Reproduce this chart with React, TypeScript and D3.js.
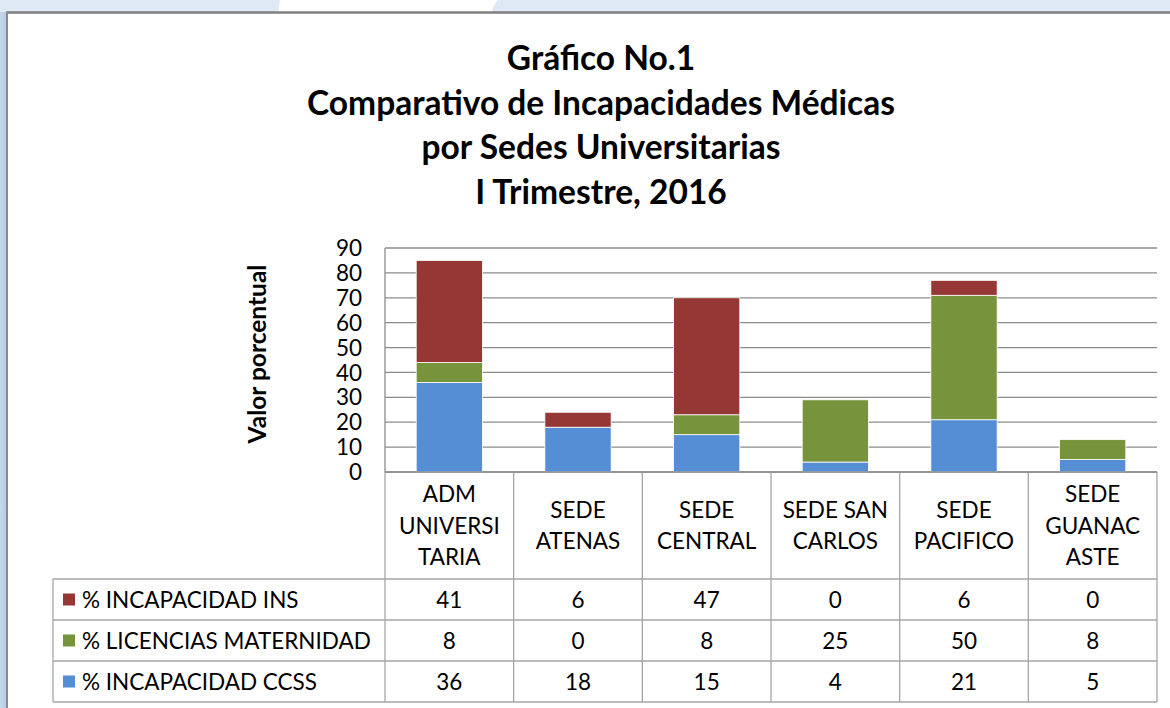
import React, { useEffect } from "react";
import * as d3 from "d3";

const categories = ["ADM UNIVERSITARIA", "SEDE ATENAS", "SEDE CENTRAL", "SEDE SAN CARLOS", "SEDE PACIFICO", "SEDE GUANACASTE"];
const categoryLines = [["ADM", "UNIVERSI", "TARIA"], ["SEDE", "ATENAS"], ["SEDE", "CENTRAL"], ["SEDE SAN", "CARLOS"], ["SEDE", "PACIFICO"], ["SEDE", "GUANAC", "ASTE"]];
const incapacidadINS = [41, 6, 47, 0, 6, 0];
const licenciasMaternidad = [8, 0, 8, 25, 50, 8];
const incapacidadCCSS = [36, 18, 15, 4, 21, 5];
const yTicks = [0, 10, 20, 30, 40, 50, 60, 70, 80, 90];
const seriesNames = ["% INCAPACIDAD INS", "% LICENCIAS MATERNIDAD", "% INCAPACIDAD CCSS"];
const titleLines = ["Gráfico No.1", "Comparativo de Incapacidades Médicas", "por Sedes Universitarias", "I Trimestre, 2016"];

const COLORS: Record<string, string> = { ins: "#953735", mat: "#77933c", ccss: "#558ed5" };
const FONT = "Lato, 'Open Sans', sans-serif";

export default function App() {
  useEffect(() => {
    document.body.style.margin = "0";
  }, []);

  const plotLeft = 385, plotRight = 1157, plotTop = 248, plotBottom = 472;
  const x = d3.scaleBand<string>().domain(categories).range([plotLeft, plotRight]).padding(0);
  const y = d3.scaleLinear().domain([0, 90]).range([plotBottom, plotTop]);
  const barW = x.bandwidth() * 0.515;

  const rows = categories.map((c, i) => ({ cat: c, ccss: incapacidadCCSS[i], mat: licenciasMaternidad[i], ins: incapacidadINS[i] }));
  const stack = d3.stack<any>().keys(["ccss", "mat", "ins"]);
  const series = stack(rows);

  const tableRows = [
    { name: seriesNames[0], key: "ins", values: incapacidadINS },
    { name: seriesNames[1], key: "mat", values: licenciasMaternidad },
    { name: seriesNames[2], key: "ccss", values: incapacidadCCSS },
  ];
  const headerBottom = 579;
  const rowH = 41;
  const tableLeft = 53;
  const grid = "#8c8c8c";
  const tbl = "#a6a6a6";
  const labelSize = 22.5;

  return (
    <svg width={1170} height={708} style={{ position: "absolute", left: 0, top: 0, display: "block" }}>
      <defs>
        <linearGradient id="leftStrip" x1="0" x2="1" y1="0" y2="0">
          <stop offset="0" stopColor="#c7d7ee" />
          <stop offset="1" stopColor="#b3c8e6" />
        </linearGradient>
      </defs>
      {/* slide background */}
      <rect x={0} y={0} width={1170} height={708} fill="#dfe9f5" />
      <path d="M280,0 L498,0 C494,5 492,9 492,12 L278,12 C279,8 279,4 280,0 Z" fill="#ffffff" />
      <rect x={0} y={12} width={7} height={696} fill="url(#leftStrip)" />
      {/* chart area */}
      <rect x={7} y={12} width={1163} height={696} fill="#ffffff" />
      <line x1={6} x2={1170} y1={12.5} y2={12.5} stroke="#7f7f7f" strokeWidth={2.5} />
      <line x1={7} x2={7} y1={12} y2={708} stroke="#8a8a8a" strokeWidth={2} />

      {/* title */}
      {titleLines.map((t, i) => (
        <text key={i} x={601} y={70 + i * 44.5} textAnchor="middle" fontFamily={FONT} fontWeight="bold" fontSize={33.5} fill="#000">
          {t}
        </text>
      ))}

      {/* y axis title */}
      <text transform={`translate(266,354) rotate(-90)`} textAnchor="middle" fontFamily={FONT} fontWeight="bold" fontSize={24.5} fill="#000">
        Valor porcentual
      </text>

      {/* gridlines */}
      {yTicks.map((t) => (
        <line key={t} x1={plotLeft} x2={plotRight} y1={y(t)} y2={y(t)} stroke={grid} strokeWidth={1.3} />
      ))}
      {/* tick labels */}
      {yTicks.map((t) => (
        <text key={"l" + t} x={362} y={y(t)} dy="0.36em" textAnchor="end" fontFamily={FONT} fontSize={22.5} fill="#000">
          {t}
        </text>
      ))}
      {/* axis line */}
      <line x1={plotLeft} x2={plotLeft} y1={plotTop} y2={plotBottom} stroke={grid} strokeWidth={1.3} />

      {/* bars */}
      {series.map((s) => (
        <g key={s.key} fill={COLORS[s.key]}>
          {s.map((d, i) => {
            const h = y(d[0]) - y(d[1]);
            if (h <= 0) return null;
            return (
              <rect
                key={i}
                x={(x(categories[i]) as number) + (x.bandwidth() - barW) / 2}
                y={y(d[1])}
                width={barW}
                height={h}
                stroke="#ffffff"
                strokeWidth={0.8}
              />
            );
          })}
        </g>
      ))}

      {/* data table */}
      {categories.map((c, i) => (
        <line key={"v" + i} x1={x(c) as number} x2={x(c) as number} y1={plotBottom} y2={headerBottom + rowH * 3} stroke={tbl} strokeWidth={1.3} />
      ))}
      <line x1={plotRight} x2={plotRight} y1={plotBottom} y2={headerBottom + rowH * 3} stroke={tbl} strokeWidth={1.3} />
      <line x1={tableLeft} x2={tableLeft} y1={headerBottom} y2={headerBottom + rowH * 3} stroke={tbl} strokeWidth={1.3} />
      {[0, 1, 2, 3].map((r) => (
        <line key={"h" + r} x1={tableLeft} x2={plotRight} y1={headerBottom + r * rowH} y2={headerBottom + r * rowH} stroke={tbl} strokeWidth={1.3} />
      ))}
      <line x1={plotLeft} x2={plotRight} y1={plotBottom} y2={plotBottom} stroke={grid} strokeWidth={1.3} />

      {/* category labels */}
      {categoryLines.map((lines, i) => {
        const cx = (x(categories[i]) as number) + x.bandwidth() / 2;
        const lh = 31.5;
        const mid = (plotBottom + headerBottom) / 2;
        const start = mid - ((lines.length - 1) * lh) / 2;
        return lines.map((ln, j) => (
          <text key={i + "-" + j} x={cx} y={start + j * lh} dy="0.36em" textAnchor="middle" fontFamily={FONT} fontSize={labelSize} fill="#000">
            {ln}
          </text>
        ));
      })}

      {/* table rows */}
      {tableRows.map((r, ri) => {
        const cy = headerBottom + ri * rowH + rowH / 2;
        return (
          <g key={r.key}>
            <rect x={63} y={cy - 6} width={12} height={12} fill={COLORS[r.key]} />
            <text x={82} y={cy} dy="0.36em" fontFamily={FONT} fontSize={labelSize} fill="#000">
              {r.name}
            </text>
            {r.values.map((v, i) => (
              <text key={i} x={(x(categories[i]) as number) + x.bandwidth() / 2} y={cy} dy="0.36em" textAnchor="middle" fontFamily={FONT} fontSize={labelSize} fill="#000">
                {v}
              </text>
            ))}
          </g>
        );
      })}
    </svg>
  );
}
